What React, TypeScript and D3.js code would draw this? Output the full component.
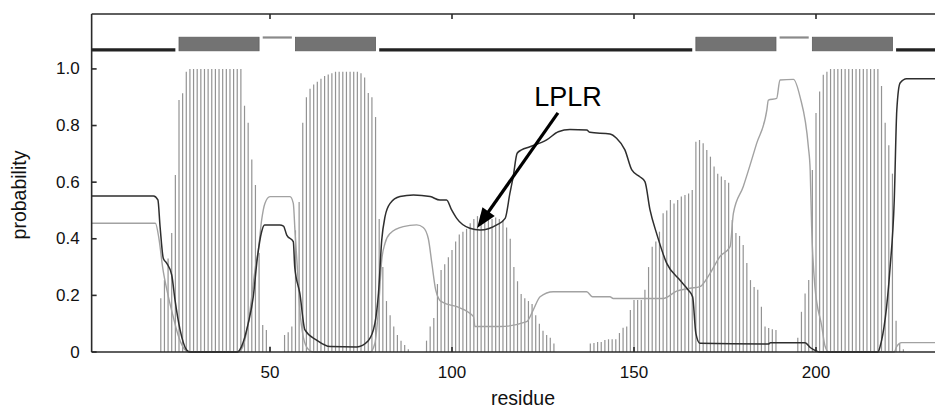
import React from 'react';
import * as d3 from 'd3';

// TM probability per residue, starting at residue 1
const tmProb = [
  0, 0, 0, 0, 0, 0, 0, 0, 0, 0,
  0, 0, 0, 0, 0, 0, 0, 0, 0, 0.19,
  0.254, 0.33, 0.42, 0.625, 0.89, 0.914, 0.99, 1, 1, 1,
  1, 1, 1, 1, 1, 1, 1, 1, 1, 1,
  1, 1, 0.87, 0.81, 0.68, 0.59, 0.35, 0.095, 0.078, 0.02,
  0, 0, 0, 0.06, 0.07, 0.09, 0.43, 0.53, 0.81, 0.9,
  0.93, 0.945, 0.955, 0.965, 0.975, 0.98, 0.985, 0.99, 0.99, 0.99,
  0.99, 0.99, 0.99, 0.99, 0.985, 0.97, 0.915, 0.9, 0.83, 0.47,
  0.3, 0.18, 0.13, 0.09, 0.06, 0.04, 0.025, 0.01, 0, 0,
  0, 0, 0.04, 0.09, 0.12, 0.24, 0.29, 0.31, 0.335, 0.36,
  0.39, 0.415, 0.425, 0.435, 0.455, 0.47, 0.48, 0.485, 0.48, 0.475,
  0.47, 0.475, 0.47, 0.465, 0.44, 0.4, 0.3, 0.25, 0.205, 0.19,
  0.18, 0.17, 0.13, 0.1, 0.075, 0.06, 0.05, 0.03, 0, 0,
  0, 0, 0, 0, 0, 0, 0, 0.03, 0.032, 0.035,
  0.035, 0.042, 0.045, 0.045, 0.045, 0.067, 0.086, 0.09, 0.148, 0.184,
  0.184, 0.184, 0.22, 0.3, 0.372, 0.39, 0.425, 0.49, 0.5, 0.537,
  0.525, 0.537, 0.549, 0.555, 0.56, 0.572, 0.743, 0.749, 0.737, 0.714,
  0.69, 0.655, 0.63, 0.62, 0.608, 0.598, 0.466, 0.42, 0.41, 0.378,
  0.314, 0.254, 0.23, 0.22, 0.16, 0.09, 0.085, 0.08, 0.078, 0,
  0, 0, 0, 0, 0.05, 0.142, 0.207, 0.254, 0.643, 0.844,
  0.92, 0.979, 0.99, 1, 1, 1, 1, 1, 1, 1,
  1, 1, 1, 1, 1, 1, 1, 0.94, 0.81, 0.73,
  0.63, 0.11, 0.03, 0.01,
];

// inside probability [residue, value]
const insideLine = [
  [1, 0.551], [18, 0.551], [19.2, 0.537], [19.8, 0.443], [20.7, 0.33], [21.6, 0.314],
  [23, 0.272], [23.9, 0.184], [25.3, 0.078], [27.1, 0.007], [28, 0], [41, 0],
  [42.2, 0.02], [44, 0.1], [45.4, 0.195], [46.5, 0.33], [47.7, 0.425], [48.5, 0.449],
  [52.7, 0.449], [53.7, 0.445], [54.6, 0.413], [56.4, 0.39], [56.8, 0.3], [58.2, 0.207],
  [59.6, 0.078], [62.8, 0.042], [66.5, 0.019], [73.8, 0.018], [77, 0.04], [78.8, 0.1],
  [79.8, 0.207], [80.7, 0.396], [81.6, 0.478], [83, 0.525], [85.7, 0.549], [89.4, 0.555],
  [94, 0.549], [96.7, 0.537], [98.5, 0.537], [99.9, 0.502], [101.3, 0.472], [104.9, 0.437],
  [107.7, 0.431], [112.3, 0.449], [114.6, 0.472], [115.9, 0.56], [116.8, 0.619], [117.9, 0.702],
  [119.1, 0.714], [121.4, 0.725], [126, 0.749], [129.2, 0.778], [132.4, 0.786], [137, 0.784],
  [137.9, 0.776], [143.4, 0.77], [145.2, 0.755], [147.5, 0.714], [149.4, 0.643], [151.6, 0.619],
  [153, 0.602], [154.4, 0.502], [156.2, 0.419], [159, 0.313], [162.6, 0.254], [164.9, 0.219],
  [166.1, 0.195], [167, 0.066], [168.1, 0.031], [186.9, 0.028], [187.5, 0.033], [197, 0.033],
  [198.5, 0.015], [200.2, 0.003], [201, 0], [217, 0], [217.6, 0.019], [220.3, 0.29],
  [221.5, 0.537], [222.2, 0.855], [223.1, 0.95], [224.9, 0.965], [250, 0.965],
];

// outside probability [residue, value]
const outsideLine = [
  [1, 0.455], [18.5, 0.455], [19.5, 0.4], [20.5, 0.3], [22, 0.2], [23.5, 0.12],
  [25, 0.05], [26.5, 0.01], [28, 0], [41, 0], [42.2, 0.01], [44, 0.1],
  [46, 0.3], [46.8, 0.36], [47.7, 0.466], [48.6, 0.525], [50, 0.549], [55.5, 0.549],
  [56.4, 0.525], [56.9, 0.419], [57.5, 0.3], [58.2, 0.15], [59.2, 0.05], [60.5, 0.01],
  [62, 0], [77.5, 0], [78.8, 0.03], [79.8, 0.15], [80.7, 0.325], [81.6, 0.384],
  [83, 0.419], [86.6, 0.443], [90.3, 0.449], [92.1, 0.44], [93.5, 0.4], [94.5, 0.31],
  [95.5, 0.22], [96.5, 0.185], [97.5, 0.175], [101.3, 0.16], [105.9, 0.125], [106.3, 0.09],
  [113.2, 0.09], [120.5, 0.107], [122.3, 0.148], [124.2, 0.195], [127.8, 0.213], [137, 0.213],
  [138.6, 0.195], [143.4, 0.195], [144.3, 0.189], [158, 0.189], [161.7, 0.215], [165.4, 0.225],
  [168.1, 0.231], [170.9, 0.278], [173.6, 0.337], [176.4, 0.372], [177.3, 0.49], [180, 0.584],
  [183.7, 0.737], [186.5, 0.855], [186.9, 0.89], [189.2, 0.896], [190.1, 0.961], [193.8, 0.963],
  [195.6, 0.902], [197.9, 0.725], [198.4, 0.643], [198.8, 0.443], [199.7, 0.231], [201.6, 0.09],
  [202.5, 0.02], [203.5, 0], [221.5, 0], [222.2, 0.02], [223.5, 0.033], [250, 0.033],
];

// predicted topology
const topoStart = [1, 25, 48, 57, 80, 167, 190, 199, 222];
const topoEnd = [24, 47, 56, 79, 166, 189, 198, 221, 250];
const topoType = ['in', 'TM', 'out', 'TM', 'in', 'TM', 'out', 'TM', 'in'];

const xTicks = [50, 100, 150, 200];
const yTicks = [0, 0.2, 0.4, 0.6, 0.8, 1.0];

const annotation = { label: 'LPLR', tip: [106.9, 0.438], tail: [129.1, 0.845], text: [122.6, 0.87] };

const W = 935;
const H = 408;
const FONT = '"Liberation Sans", Arial, Helvetica, sans-serif';

export default function App() {
  const x = d3.scaleLinear().domain([0, 250]).range([88, 88 + 3.64 * 250]);
  const y = d3.scaleLinear().domain([0, 1.194]).range([352, 14]);
  const left = x(1);
  const line = d3.line<number[]>().x(d => x(d[0])).y(d => y(d[1])).curve(d3.curveMonotoneX);

  // arrow head
  const [tx, ty] = [x(annotation.tip[0]), y(annotation.tip[1])];
  const [sx, sy] = [x(annotation.tail[0]), y(annotation.tail[1])];
  const len = Math.hypot(tx - sx, ty - sy);
  const ux = (tx - sx) / len, uy = (ty - sy) / len;
  const headL = 20, headW = 7.5;
  const bx = tx - ux * headL, by = ty - uy * headL;
  const head = `M${tx},${ty}L${bx - uy * headW},${by + ux * headW}L${bx + uy * headW},${by - ux * headW}Z`;

  return (
    <svg width={W} height={H} style={{ position: 'absolute', left: 0, top: 0, background: '#fff' }}>
      {/* bars */}
      <g stroke="#939393" strokeWidth={1.2}>
        {tmProb.map((v, i) => v > 0 ? (
          <line key={i} x1={x(i + 1)} x2={x(i + 1)} y1={y(0)} y2={y(v)} />
        ) : null)}
      </g>
      <path d={line(outsideLine as number[][]) || ''} fill="none" stroke="#a2a2a2" strokeWidth={1.4} />
      <path d={line(insideLine as number[][]) || ''} fill="none" stroke="#2e2e2e" strokeWidth={1.5} />

      {/* topology track */}
      {topoType.map((t, i) => {
        const x0 = x(topoStart[i]);
        const x1 = x(topoEnd[i]);
        if (t === 'TM') return <rect key={i} x={x0} y={y(1.112)} width={x1 - x0} height={y(1.064) - y(1.112)} fill="#737373" stroke="#5e5e5e" strokeWidth={0.8} />;
        if (t === 'in') return <line key={i} x1={x0} x2={x1} y1={y(1.067)} y2={y(1.067)} stroke="#222" strokeWidth={3.2} />;
        return <line key={i} x1={x0} x2={x1} y1={y(1.111)} y2={y(1.111)} stroke="#8a8a8a" strokeWidth={2.2} />;
      })}

      {/* frame */}
      <g stroke="#2a2a2a" strokeWidth={1.6} fill="none">
        <line x1={left} x2={W + 5} y1={y(0)} y2={y(0)} />
        <line x1={left} x2={W + 5} y1={y.range()[1]} y2={y.range()[1]} />
        <line x1={left} x2={left} y1={y.range()[1]} y2={y(0)} />
        {yTicks.map(t => <line key={t} x1={left} x2={left + 5} y1={y(t)} y2={y(t)} />)}
        {xTicks.map(t => <line key={'b' + t} x1={x(t)} x2={x(t)} y1={y(0)} y2={y(0) - 5} />)}
        {xTicks.map(t => <line key={'t' + t} x1={x(t)} x2={x(t)} y1={y.range()[1]} y2={y.range()[1] + 5} />)}
      </g>

      {/* tick labels */}
      <g fontFamily={FONT} fontSize={17} fill="#111">
        {yTicks.map(t => (
          <text key={t} x={left - 12} y={y(t)} textAnchor="end" dominantBaseline="central">{t === 0 ? '0' : t.toFixed(1)}</text>
        ))}
        {xTicks.map(t => (
          <text key={t} x={x(t)} y={378} textAnchor="middle">{t}</text>
        ))}
      </g>
      <text x={523} y={405} textAnchor="middle" fontFamily={FONT} fontSize={19.5} fill="#111">residue</text>
      <text transform="translate(26,195) rotate(-90)" textAnchor="middle" fontFamily={FONT} fontSize={19.5} fill="#111">probability</text>

      {/* annotation */}
      <line x1={sx} y1={sy} x2={bx + ux * 2} y2={by + uy * 2} stroke="#000" strokeWidth={3.2} />
      <path d={head} fill="#000" />
      <text x={x(annotation.text[0])} y={y(annotation.text[1])} fontFamily={FONT} fontSize={27} fill="#000">{annotation.label}</text>
    </svg>
  );
}
